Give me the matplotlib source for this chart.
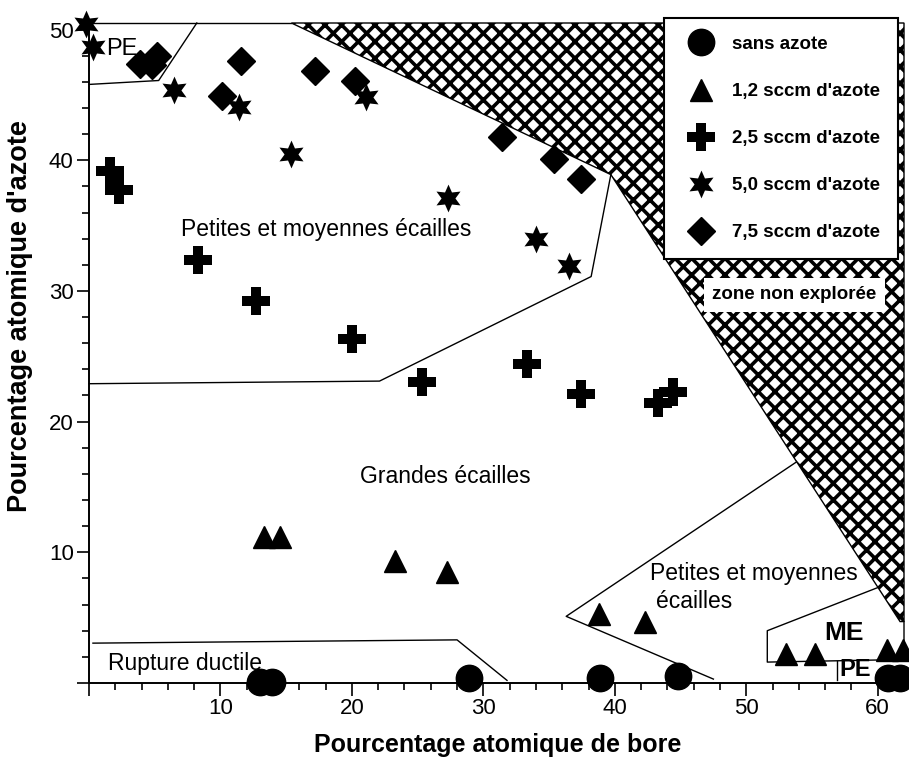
import matplotlib
matplotlib.use("Agg")
import matplotlib.pyplot as plt
from matplotlib.lines import Line2D
from matplotlib.ticker import MultipleLocator

plt.rcParams['font.family'] = ['Liberation Sans', 'DejaVu Sans']
plt.rcParams['hatch.linewidth'] = 2.6

# ---- data ----
sans_x = [13.0, 13.9, 28.9, 38.9, 44.8, 60.8, 61.7]
sans_y = [0.1, 0.1, 0.4, 0.4, 0.5, 0.4, 0.4]

n12_x = [13.3, 14.5, 23.3, 27.2, 38.8, 42.3, 53.0, 55.2, 60.7, 61.9]
n12_y = [11.2, 11.2, 9.3, 8.5, 5.3, 4.7, 2.2, 2.2, 2.5, 2.5]

n25_x = [1.6, 2.3, 8.3, 12.7, 20.0, 25.3, 33.3, 37.4, 43.3, 44.4]
n25_y = [39.2, 37.7, 32.4, 29.2, 26.3, 23.0, 24.4, 22.1, 21.4, 22.3]

n50_x = [-0.2, 0.3, 6.5, 11.4, 15.4, 21.1, 27.3, 34.0, 36.5]
n50_y = [50.4, 48.7, 45.4, 44.1, 40.5, 44.8, 37.1, 34.0, 31.9]

n75_x = [3.9, 4.8, 5.2, 10.1, 11.6, 17.2, 20.2, 31.4, 35.4, 37.4]
n75_y = [47.4, 47.3, 48.0, 44.9, 47.6, 46.8, 46.1, 41.8, 40.1, 38.6]

labels = ["sans azote", "1,2 sccm d'azote", "2,5 sccm d'azote",
          "5,0 sccm d'azote", "7,5 sccm d'azote"]

# region boundaries
top_x = [0, 15.4]
top_y = [50.5, 50.5]
pe_top_x = [0, 5.3, 8.2]
pe_top_y = [45.8, 46.1, 50.5]
pme_x = [0, 22.1, 38.2, 39.7]
pme_y = [22.9, 23.1, 31.1, 38.9]
hatch_x = [15.4, 39.7, 61.7, 62.0, 62.0]
hatch_y = [50.5, 38.9, 4.7, 4.7, 50.5]
rupt_x = [0.3, 28.0, 31.8]
rupt_y = [3.05, 3.3, 0.2]
pme2_x = [53.8, 36.3, 47.5]
pme2_y = [16.9, 5.1, 0.3]
me_x = [60.0, 51.6, 51.6, 56.9, 62.0, 62.0]
me_y = [7.3, 4.0, 1.6, 1.7, 1.8, 4.7]
pe_bot_x = [56.9, 56.9]
pe_bot_y = [1.7, 0.2]

W, H = 909, 763
fig = plt.figure(figsize=(W / 100, H / 100), dpi=100)
ax = fig.add_axes([89 / W, (H - 683) / H, 815 / W, 660 / H])
ax.set_xlim(0, 62)
ax.set_ylim(0, 50.5)

for s in ['top', 'right']:
    ax.spines[s].set_visible(False)
for s in ['left', 'bottom']:
    ax.spines[s].set_linewidth(1.4)

ax.xaxis.set_major_locator(MultipleLocator(10))
ax.xaxis.set_minor_locator(MultipleLocator(2))
ax.yaxis.set_major_locator(MultipleLocator(10))
ax.yaxis.set_minor_locator(MultipleLocator(2))
ax.tick_params(which='major', direction='out', length=9, width=1.2,
               labelsize=16, pad=2)
ax.tick_params(which='minor', direction='out', length=5, width=1.2)
ax.set_xticks([0, 10, 20, 30, 40, 50, 60])
ax.set_xticklabels(['', '10', '20', '30', '40', '50', '60'])
ax.set_yticks([0, 10, 20, 30, 40, 50])
ax.set_yticklabels(['', '10', '20', '30', '40', '50'])

ax.set_xlabel("Pourcentage atomique de bore", fontsize=18, fontweight='bold')
ax.set_ylabel("Pourcentage atomique d'azote", fontsize=19.5, fontweight='bold')
ax.xaxis.label.set_va('center')
ax.yaxis.label.set_va('center')
ax.xaxis.set_label_coords(0.502, (683 - 745) / 660)
ax.yaxis.set_label_coords((20 - 89) / 815, (683 - 316) / 660)

# regions
ax.fill(hatch_x, hatch_y, facecolor='white', edgecolor='black', hatch='xx',
        linewidth=1.0, zorder=1, clip_on=False)
lk = dict(color='black', lw=1.0, zorder=2, clip_on=False)
ax.plot(top_x, top_y, **lk)
ax.plot(pe_top_x, pe_top_y, **lk)
ax.plot(pme_x, pme_y, **lk)
ax.plot(rupt_x, rupt_y, **lk)
ax.plot(pme2_x, pme2_y, **lk)
ax.plot(me_x, me_y, **lk)
ax.plot(pe_bot_x, pe_bot_y, **lk)

# markers
mk = dict(linestyle='none', color='black', zorder=4, clip_on=False)
ax.plot(sans_x, sans_y, marker='o', markersize=19, **mk)
ax.plot(n12_x, n12_y, marker='^', markersize=16, **mk)
ax.plot(n25_x, n25_y, marker='P', markersize=20, markeredgewidth=0, **mk)
ax.plot(n50_x, n50_y, marker=(6, 1, 0), markersize=20, markeredgewidth=0, **mk)
ax.plot(n75_x, n75_y, marker='D', markersize=14, **mk)

# region labels
tk = dict(fontsize=16.5, va='center', ha='left', zorder=3)
ax.text(7.0, 34.7, "Petites et moyennes écailles", **tk)
ax.text(20.6, 15.8, "Grandes écailles", **tk)
ax.text(1.45, 1.5, "Rupture ductile", **tk)
ax.text(42.7, 8.4, "Petites et moyennes", **tk)
ax.text(43.1, 6.2, "écailles", **tk)
ax.text(1.3, 48.5, "PE", fontsize=17, va='center', ha='left', zorder=3)
ax.text(55.9, 3.8, "ME", fontsize=19, fontweight='bold', va='center', ha='left', zorder=3)
ax.text(57.1, 1.0, "PE", fontsize=17, fontweight='bold', va='center', ha='left', zorder=3)
ax.text(47.4, 29.7, "zone non explorée", fontsize=13.5, fontweight='bold',
        va='center', ha='left', zorder=3,
        bbox=dict(boxstyle='square,pad=0.45', facecolor='white', edgecolor='none'))

# legend
handles = [
    Line2D([], [], linestyle='none', color='black', marker='o', markersize=19),
    Line2D([], [], linestyle='none', color='black', marker='^', markersize=16),
    Line2D([], [], linestyle='none', color='black', marker='P', markersize=20, markeredgewidth=0),
    Line2D([], [], linestyle='none', color='black', marker=(6, 1, 0), markersize=20, markeredgewidth=0),
    Line2D([], [], linestyle='none', color='black', marker='D', markersize=14),
]
leg = ax.legend(handles, labels, loc='upper right',
                bbox_to_anchor=(898 / W, 1 - 18 / H), bbox_transform=fig.transFigure,
                borderaxespad=0, fancybox=False, framealpha=1, edgecolor='black',
                prop={'size': 13.5, 'weight': 'bold'}, labelspacing=1.6,
                borderpad=0.95, handlelength=2.0, handletextpad=0.67)
leg.get_frame().set_linewidth(1.5)
leg.set_zorder(6)

fig.savefig("out.png", dpi=100)
